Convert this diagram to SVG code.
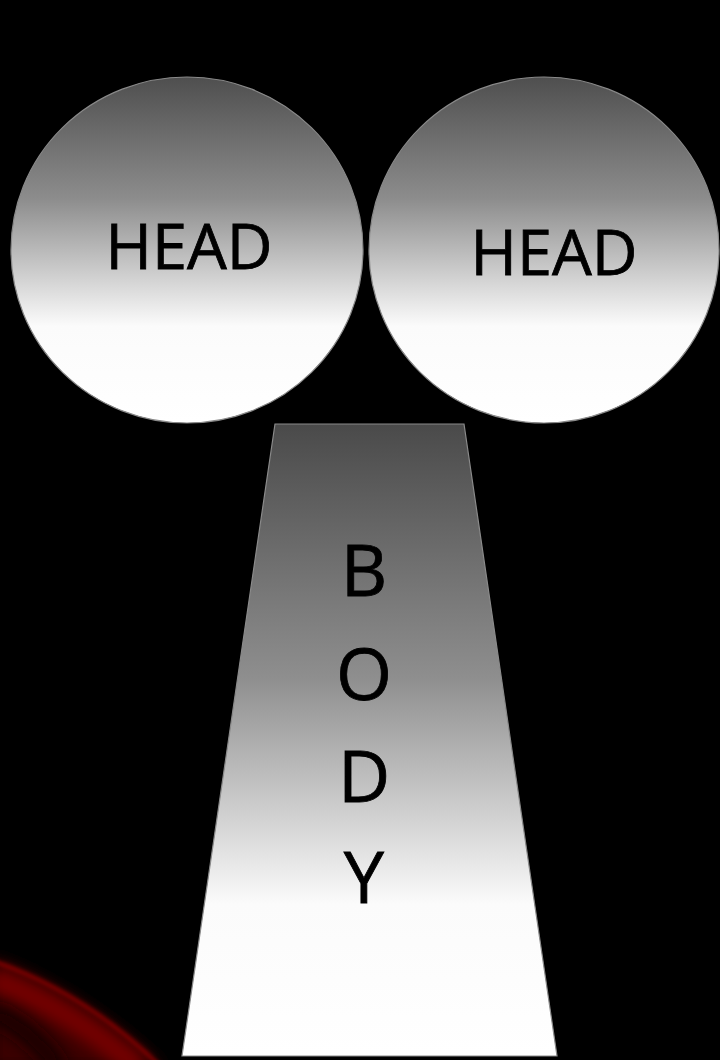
<svg xmlns="http://www.w3.org/2000/svg" width="720" height="1060" viewBox="0 0 720 1060">
  <style>
    .lbl { font-family: "Open Sans", "Liberation Sans", sans-serif; fill: #000; stroke: #000; stroke-width: 0.8; }
    .head { font-size: 63px; }
    .body { font-size: 72px; }
    .shape { stroke: #8a8a8a; stroke-width: 1.2; }
  </style>
  <defs>
    <linearGradient id="gHead" x1="0" y1="0" x2="0" y2="1">
      <stop offset="0" stop-color="#4f4f4f"/>
      <stop offset="0.35" stop-color="#8c8c8c"/>
      <stop offset="0.72" stop-color="#fbfbfb"/>
      <stop offset="1" stop-color="#ffffff"/>
    </linearGradient>
    <linearGradient id="gBody" x1="0" y1="0" x2="0" y2="1">
      <stop offset="0" stop-color="#4a4a4a"/>
      <stop offset="0.4" stop-color="#8e8e8e"/>
      <stop offset="0.76" stop-color="#fbfbfb"/>
      <stop offset="1" stop-color="#ffffff"/>
    </linearGradient>
    <filter id="blur" x="-50%" y="-50%" width="200%" height="200%">
      <feGaussianBlur stdDeviation="2"/>
    </filter>
    <filter id="blur2" x="-50%" y="-50%" width="200%" height="200%">
      <feGaussianBlur stdDeviation="8"/>
    </filter>
  </defs>
  <rect width="720" height="1060" fill="#000"/>

  <g id="swoosh">
    <path d="M-10,958 Q80,990 165,1070 L-10,1070 Z" fill="#3a0000" filter="url(#blur2)"/>
    <path d="M-10,978 Q70,1008 140,1070" fill="none" stroke="#760000" stroke-width="24" filter="url(#blur2)"/>
    <path d="M-10,960 Q85,992 162,1068" fill="none" stroke="#9a0000" stroke-width="3" filter="url(#blur)"/>
    <path d="M-10,1012 Q30,1027 60,1070" fill="none" stroke="#150000" stroke-width="20" filter="url(#blur2)"/>
  </g>

  <g id="head-left">
    <ellipse class="shape" cx="187" cy="250" rx="176" ry="173" fill="url(#gHead)"/>
    <text class="lbl head" x="189" y="269" text-anchor="middle">HEAD</text>
  </g>

  <g id="head-right">
    <ellipse class="shape" cx="544" cy="250" rx="175" ry="173" fill="url(#gHead)"/>
    <text class="lbl head" x="554" y="275" text-anchor="middle">HEAD</text>
  </g>

  <g id="body">
    <polygon class="shape" points="275,424 464,424 557,1056 182,1056" fill="url(#gBody)"/>
    <text class="lbl body" x="364" y="596" text-anchor="middle">B</text>
    <text class="lbl body" x="364" y="700" text-anchor="middle">O</text>
    <text class="lbl body" x="364" y="802" text-anchor="middle">D</text>
    <text class="lbl body" x="364" y="903" text-anchor="middle">Y</text>
  </g>

  <g id="connectors"></g>
</svg>
